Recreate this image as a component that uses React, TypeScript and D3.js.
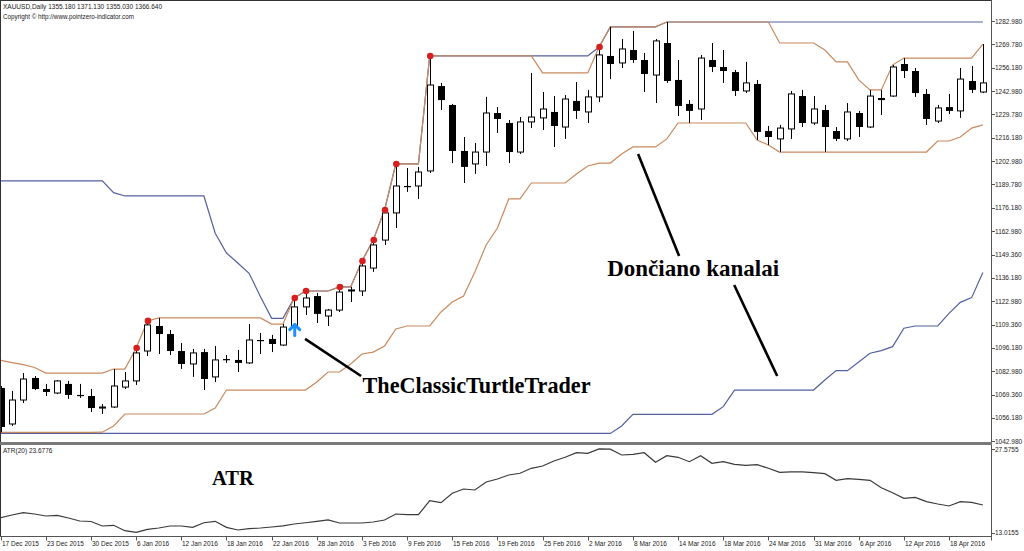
import React from 'react';
import * as d3 from 'd3';

// XAUUSD daily, 17 Dec 2015 .. 21 Apr 2016 (88 bars)
const dateLabels = [
  '17 Dec 2015', '23 Dec 2015', '30 Dec 2015', '6 Jan 2016', '12 Jan 2016', '18 Jan 2016',
  '22 Jan 2016', '28 Jan 2016', '3 Feb 2016', '9 Feb 2016', '15 Feb 2016', '19 Feb 2016',
  '25 Feb 2016', '2 Mar 2016', '8 Mar 2016', '14 Mar 2016', '18 Mar 2016', '24 Mar 2016',
  '31 Mar 2016', '6 Apr 2016', '12 Apr 2016', '18 Apr 2016',
];
const labelStep = 4;

const opens = [
  1073.3, 1052.7, 1066.4, 1079.0, 1072.7, 1070.4, 1075.6, 1069.3, 1068.7, 1061.8,
  1062.4, 1073.8, 1077.3, 1094.4, 1108.7, 1104.1, 1094.4, 1087.0, 1093.8, 1079.6,
  1089.8, 1089.3, 1087.6, 1100.7, 1101.3, 1097.8, 1108.1, 1119.6, 1125.8, 1114.4,
  1117.8, 1128.7, 1128.7, 1141.8, 1157.8, 1173.3, 1188.7, 1188.7, 1197.3, 1245.8,
  1235.0, 1208.7, 1201.3, 1208.1, 1230.4, 1224.7, 1208.1, 1225.3, 1227.6, 1231.0,
  1222.4, 1237.3, 1231.0, 1239.6, 1263.0, 1259.0, 1266.4, 1260.7, 1252.1, 1270.4,
  1249.3, 1235.6, 1232.7, 1260.7, 1256.7, 1253.8, 1243.0, 1247.0, 1220.1, 1215.6,
  1221.3, 1240.1, 1224.7, 1232.1, 1220.1, 1215.6, 1230.4, 1222.4, 1239.0, 1240.1,
  1258.4, 1254.4, 1241.3, 1225.8, 1233.8, 1231.6, 1248.7, 1242.4,
];
const highs = [
  1074.4, 1071.6, 1081.8, 1080.1, 1075.6, 1077.8, 1077.3, 1075.6, 1072.7, 1064.1,
  1084.1, 1082.4, 1096.1, 1111.6, 1113.3, 1106.4, 1099.0, 1095.6, 1095.6, 1097.3,
  1092.1, 1095.0, 1109.8, 1104.7, 1103.6, 1109.8, 1124.7, 1128.7, 1127.6, 1118.4,
  1131.0, 1131.0, 1145.8, 1157.8, 1175.0, 1201.3, 1199.0, 1199.6, 1263.0, 1247.6,
  1235.6, 1216.7, 1213.3, 1239.6, 1233.8, 1226.4, 1228.1, 1253.3, 1242.4, 1240.1,
  1240.7, 1248.1, 1243.6, 1268.1, 1279.6, 1272.7, 1277.3, 1264.7, 1272.7, 1282.4,
  1260.7, 1237.8, 1263.6, 1270.4, 1266.4, 1255.0, 1259.6, 1249.3, 1223.0, 1223.6,
  1243.0, 1243.6, 1240.1, 1235.0, 1222.4, 1236.1, 1231.6, 1243.6, 1243.6, 1257.8,
  1261.8, 1256.1, 1244.1, 1235.0, 1241.3, 1256.1, 1257.3, 1269.8,
];
const lows = [
  1048.0, 1051.6, 1064.7, 1072.1, 1068.7, 1069.8, 1067.0, 1067.6, 1059.6, 1058.4,
  1061.8, 1072.7, 1075.0, 1091.6, 1092.7, 1092.1, 1084.1, 1079.6, 1072.1, 1076.7,
  1087.6, 1082.4, 1087.0, 1092.7, 1093.8, 1097.3, 1107.0, 1115.0, 1110.4, 1108.7,
  1116.7, 1122.4, 1125.8, 1139.6, 1155.0, 1164.7, 1185.3, 1181.3, 1196.1, 1232.1,
  1201.8, 1190.4, 1195.6, 1200.1, 1219.0, 1201.8, 1207.0, 1221.8, 1220.7, 1211.0,
  1215.6, 1227.0, 1224.7, 1236.7, 1249.8, 1256.1, 1259.0, 1242.4, 1236.1, 1247.6,
  1228.7, 1224.7, 1226.4, 1253.8, 1247.6, 1240.1, 1241.8, 1215.0, 1212.1, 1208.1,
  1215.6, 1222.4, 1223.6, 1208.1, 1214.4, 1214.4, 1216.7, 1221.8, 1229.3, 1239.6,
  1250.4, 1239.6, 1223.6, 1224.7, 1229.8, 1227.6, 1241.8, 1241.8,
];
const closes = [
  1051.0, 1066.4, 1078.4, 1072.7, 1071.0, 1077.3, 1069.3, 1069.0, 1061.8, 1062.4,
  1074.4, 1077.3, 1093.3, 1109.3, 1104.1, 1094.4, 1087.0, 1093.3, 1078.4, 1089.3,
  1089.6, 1087.6, 1100.7, 1100.4, 1098.4, 1108.1, 1119.6, 1124.7, 1115.6, 1117.8,
  1128.1, 1129.3, 1143.0, 1155.0, 1173.3, 1188.7, 1188.4, 1196.7, 1246.4, 1237.8,
  1208.7, 1199.6, 1208.1, 1230.4, 1227.0, 1208.1, 1225.3, 1228.1, 1232.7, 1223.0,
  1238.4, 1231.6, 1239.6, 1263.6, 1258.4, 1267.0, 1260.7, 1252.7, 1271.6, 1248.7,
  1234.4, 1231.6, 1261.8, 1256.7, 1254.4, 1243.0, 1247.6, 1219.6, 1216.7, 1221.8,
  1241.3, 1224.7, 1232.7, 1222.4, 1215.6, 1231.0, 1222.4, 1240.1, 1237.8, 1256.7,
  1254.4, 1241.8, 1227.0, 1233.3, 1231.6, 1249.8, 1243.6, 1247.6,
];

// 10-bar Donchian (brown): values before a full window is on screen
const channelPeriod = 10;
const upperSeed = [1089.1, 1087.8, 1086.6, 1085.0, 1081.8, 1081.8, 1081.8, 1081.8, 1081.8];
const lowerSeed = [1047.9, 1047.9, 1047.9, 1047.9, 1047.9, 1047.9, 1047.9, 1047.9, 1047.9];

// 55-bar Donchian (blue)
const slowUpper = [
  1191.6, 1191.6, 1191.6, 1191.6, 1191.6, 1191.6, 1191.6, 1191.6, 1191.6, 1191.6,
  1184.9, 1183.0, 1183.0, 1183.0, 1183.0, 1183.0, 1183.0, 1183.0, 1183.0, 1161.7,
  1150.4, 1144.7, 1138.8, 1125.6, 1113.1, 1113.1, 1124.7, 1128.7, 1128.7, 1128.7,
  1131.0, 1131.0, 1145.8, 1157.8, 1175.0, 1201.3, 1201.3, 1201.3, 1263.0, 1263.0,
  1263.0, 1263.0, 1263.0, 1263.0, 1263.0, 1263.0, 1263.0, 1263.0, 1263.0, 1263.0,
  1263.0, 1263.0, 1263.0, 1268.1, 1279.6, 1279.6, 1279.6, 1279.6, 1279.6, 1282.4,
  1282.4, 1282.4, 1282.4, 1282.4, 1282.4, 1282.4, 1282.4, 1282.4, 1282.4, 1282.4,
  1282.4, 1282.4, 1282.4, 1282.4, 1282.4, 1282.4, 1282.4, 1282.4, 1282.4, 1282.4,
  1282.4, 1282.4, 1282.4, 1282.4, 1282.4, 1282.4, 1282.4, 1282.4,
];
const slowLower = [
  1047.3, 1047.3, 1047.3, 1047.3, 1047.3, 1047.3, 1047.3, 1047.3, 1047.3, 1047.3,
  1047.3, 1047.3, 1047.3, 1047.3, 1047.3, 1047.3, 1047.3, 1047.3, 1047.3, 1047.3,
  1047.3, 1047.3, 1047.3, 1047.3, 1047.3, 1047.3, 1047.3, 1047.3, 1047.3, 1047.3,
  1047.3, 1047.3, 1047.3, 1047.3, 1047.3, 1047.3, 1047.3, 1047.3, 1047.3, 1047.3,
  1047.3, 1047.3, 1047.3, 1047.3, 1047.3, 1047.3, 1047.3, 1047.3, 1047.3, 1047.3,
  1047.3, 1047.3, 1047.3, 1047.3, 1047.3, 1051.6, 1058.2, 1058.2, 1058.2, 1058.2,
  1058.2, 1058.2, 1058.2, 1058.2, 1062.6, 1072.1, 1072.1, 1072.1, 1072.1, 1072.1,
  1072.1, 1072.1, 1072.1, 1077.8, 1083.2, 1083.2, 1088.1, 1093.1, 1094.6, 1096.9,
  1107.4, 1108.7, 1108.7, 1108.7, 1115.9, 1122.2, 1124.9, 1139.2,
];

const atr = [
  15.60, 16.07, 16.47, 16.24, 15.89, 16.01, 15.54, 15.02, 14.93, 14.15,
  14.27, 13.33, 13.05, 13.57, 13.80, 14.15, 14.15, 13.92, 14.72, 14.97,
  13.92, 13.45, 13.68, 13.80, 13.97, 14.18, 14.50, 14.72, 14.97, 15.20,
  14.67, 14.67, 14.67, 14.85, 15.20, 16.24, 16.12, 16.12, 18.56, 18.21,
  19.85, 20.60, 20.43, 21.82, 22.34, 23.04, 23.34, 24.21, 24.61, 25.48,
  26.13, 26.93, 26.83, 27.58, 27.55, 26.53, 26.65, 26.93, 25.26, 26.41,
  26.13, 25.36, 26.41, 25.08, 25.36, 24.91, 24.73, 24.84, 24.21, 23.51,
  23.57, 23.57, 23.44, 23.27, 22.12, 22.40, 22.29, 22.12, 20.83, 19.96,
  18.98, 19.15, 18.39, 17.99, 17.64, 18.39, 18.28, 17.81,
];

const breakoutBars = [12, 13, 26, 27, 30, 32, 33, 34, 35, 38, 53];
const buyArrow = { bar: 26, price: 1109.5 };

const priceTicks = [
  1282.98, 1269.78, 1256.18, 1242.98, 1229.78, 1216.18, 1202.98, 1189.78, 1176.18, 1162.98,
  1149.36, 1136.18, 1122.98, 1109.36, 1096.18, 1082.98, 1069.36, 1056.18, 1042.98,
];
const atrTicks = [27.5755, 13.0155];

// annotation pointers in (bar, price) units
const pointers = [
  { from: [26.96, 1101.3], to: [31.92, 1080.1] },
  { from: [56.46, 1207.0], to: [60.09, 1148.7] },
  { from: [64.97, 1132.1], to: [68.78, 1080.1] },
];

const smallFont = '"Liberation Sans", Arial, sans-serif';
const bigFont = '"Liberation Serif", "Times New Roman", serif';

function Small({ x, y, s, size = 6.5 }: any) {
  return (
    <text x={x} y={y} fontSize={size} fontFamily={smallFont} fill="#222">{s}</text>
  );
}

export default function App() {
  const W = 1024, H = 551;
  const right = 991;
  const mainBottom = 441.5;
  const atrTop = 445, atrBottom = 536.5;

  const n = closes.length;
  const x = d3.scaleLinear().domain([0, n - 1]).range([0.7, 982.9]);
  const y = d3.scaleLinear().domain([1042.98, 1282.98]).range([441, 21]);
  const ya = d3.scaleLinear().domain([13.0155, 27.5755]).range([532.5, 449]);

  const fastUpper = highs.map((h, i) =>
    i < channelPeriod - 1 ? upperSeed[i] : d3.max(highs.slice(i - channelPeriod + 1, i + 1))!);
  const fastLower = lows.map((l, i) =>
    i < channelPeriod - 1 ? lowerSeed[i] : d3.min(lows.slice(i - channelPeriod + 1, i + 1))!);

  const priceLine = d3.line<number>().x((_, i) => x(i)).y(v => y(v));
  const atrLine = d3.line<number>().x((_, i) => x(i)).y(v => ya(v));

  const blue = '#55609e';
  const brown = '#c98a5e';

  return (
    <div style={{ position: 'fixed', left: 0, top: 0, width: W, height: H, background: '#fff' }}>
      <svg width={W} height={H} style={{ display: 'block' }}>
        <defs>
          <clipPath id="mainClip"><rect x={1} y={1} width={right - 1} height={mainBottom - 1} /></clipPath>
          <clipPath id="atrClip"><rect x={1} y={atrTop} width={right - 1} height={atrBottom - atrTop} /></clipPath>
        </defs>
        <rect width={W} height={H} fill="#fff" />

        <g clipPath="url(#mainClip)">
          <path d={priceLine(slowUpper)!} fill="none" stroke={blue} strokeWidth={1.2} />
          <path d={priceLine(slowLower)!} fill="none" stroke={blue} strokeWidth={1.2} />
          <path d={priceLine(fastUpper)!} fill="none" stroke={brown} strokeWidth={1.2} />
          <path d={priceLine(fastLower)!} fill="none" stroke={brown} strokeWidth={1.2} />

          {closes.map((c, i) => {
            const o = opens[i];
            const cx = Math.round(x(i));
            const top = y(Math.max(o, c));
            const bot = y(Math.min(o, c));
            const bull = c > o;
            return (
              <g key={i}>
                <line x1={cx + 0.5} x2={cx + 0.5} y1={y(highs[i])} y2={y(lows[i])} stroke="#000" strokeWidth={1} />
                {bull ? (
                  <rect x={cx - 2.5} y={top} width={6} height={Math.max(bot - top, 1)} fill="#fff" stroke="#000" strokeWidth={1} />
                ) : (
                  <rect x={cx - 3} y={top} width={7} height={Math.max(bot - top, 1.2)} fill="#000" />
                )}
              </g>
            );
          })}

          {breakoutBars.map(b => (
            <circle key={b} cx={x(b) + 0.5} cy={y(highs[b])} r={3.3} fill="#d61f1f" />
          ))}

          <g stroke="#1e8fff" strokeWidth={3} fill="none" strokeLinecap="round" strokeLinejoin="round">
            <path d={`M${x(buyArrow.bar) - 4.5},${y(buyArrow.price) + 5} L${x(buyArrow.bar) + 0.5},${y(buyArrow.price)} L${x(buyArrow.bar) + 5.5},${y(buyArrow.price) + 5}`} />
            <path d={`M${x(buyArrow.bar) + 0.5},${y(buyArrow.price)} L${x(buyArrow.bar) + 0.5},${y(buyArrow.price) + 11}`} />
          </g>

          {pointers.map((p, i) => (
            <line key={i} x1={x(p.from[0])} y1={y(p.from[1])} x2={x(p.to[0])} y2={y(p.to[1])}
              stroke="#000" strokeWidth={2.6} />
          ))}

          <text x={x(53.72)} y={y(1137.3)} fontFamily={bigFont} fontWeight="bold" fontSize={23} fill="#000">Dončiano kanalai</text>
          <text x={x(32.05)} y={y(1070.4)} fontFamily={bigFont} fontWeight="bold" fontSize={22.2} fill="#000">TheClassicTurtleTrader</text>
        </g>

        <g clipPath="url(#atrClip)">
          <path d={atrLine(atr)!} fill="none" stroke="#3a3a3a" strokeWidth={1.2} />
          <text x={x(18.72)} y={ya(21.3)} fontFamily={bigFont} fontWeight="bold" fontSize={20.5} fill="#000">ATR</text>
        </g>

        {/* frames */}
        <line x1={0.5} x2={0.5} y1={0} y2={atrBottom} stroke="#333" />
        <line x1={0} x2={right} y1={0.5} y2={0.5} stroke="#333" />
        <line x1={right + 0.5} x2={right + 0.5} y1={0} y2={atrBottom + 4} stroke="#555" />
        <rect x={0} y={442} width={right + 1} height={3} fill="#7a7a7a" />
        <line x1={0} x2={right + 1} y1={atrBottom} y2={atrBottom} stroke="#555" />

        {/* header */}
        <Small x={3} y={9} s="XAUUSD,Daily  1355.180 1371.130 1355.030 1366.640" />
        <Small x={3} y={18.5} s="Copyright © http://www.pointzero-indicator.com" size={6.3} />
        <Small x={3} y={453} s="ATR(20) 23.6776" />

        {/* price axis */}
        {priceTicks.map(t => (
          <g key={t}>
            <line x1={right} x2={right + 4} y1={Math.round(y(t)) + 0.5} y2={Math.round(y(t)) + 0.5} stroke="#555" />
            <Small x={995} y={y(t) + 2.5} s={t.toFixed(3)} />
          </g>
        ))}
        {atrTicks.map(t => (
          <g key={t}>
            <line x1={right} x2={right + 4} y1={Math.round(ya(t)) + 0.5} y2={Math.round(ya(t)) + 0.5} stroke="#555" />
            <Small x={995} y={ya(t) + 2.5} s={t.toFixed(4)} />
          </g>
        ))}

        {/* time axis */}
        {dateLabels.map((d, k) => {
          const bx = Math.round(x(k * labelStep)) + 0.5;
          return (
            <g key={d}>
              <line x1={bx} x2={bx} y1={atrBottom} y2={atrBottom + 4} stroke="#555" />
              <Small x={bx + 0.5} y={545.5} s={d} />
            </g>
          );
        })}
      </svg>
    </div>
  );
}
